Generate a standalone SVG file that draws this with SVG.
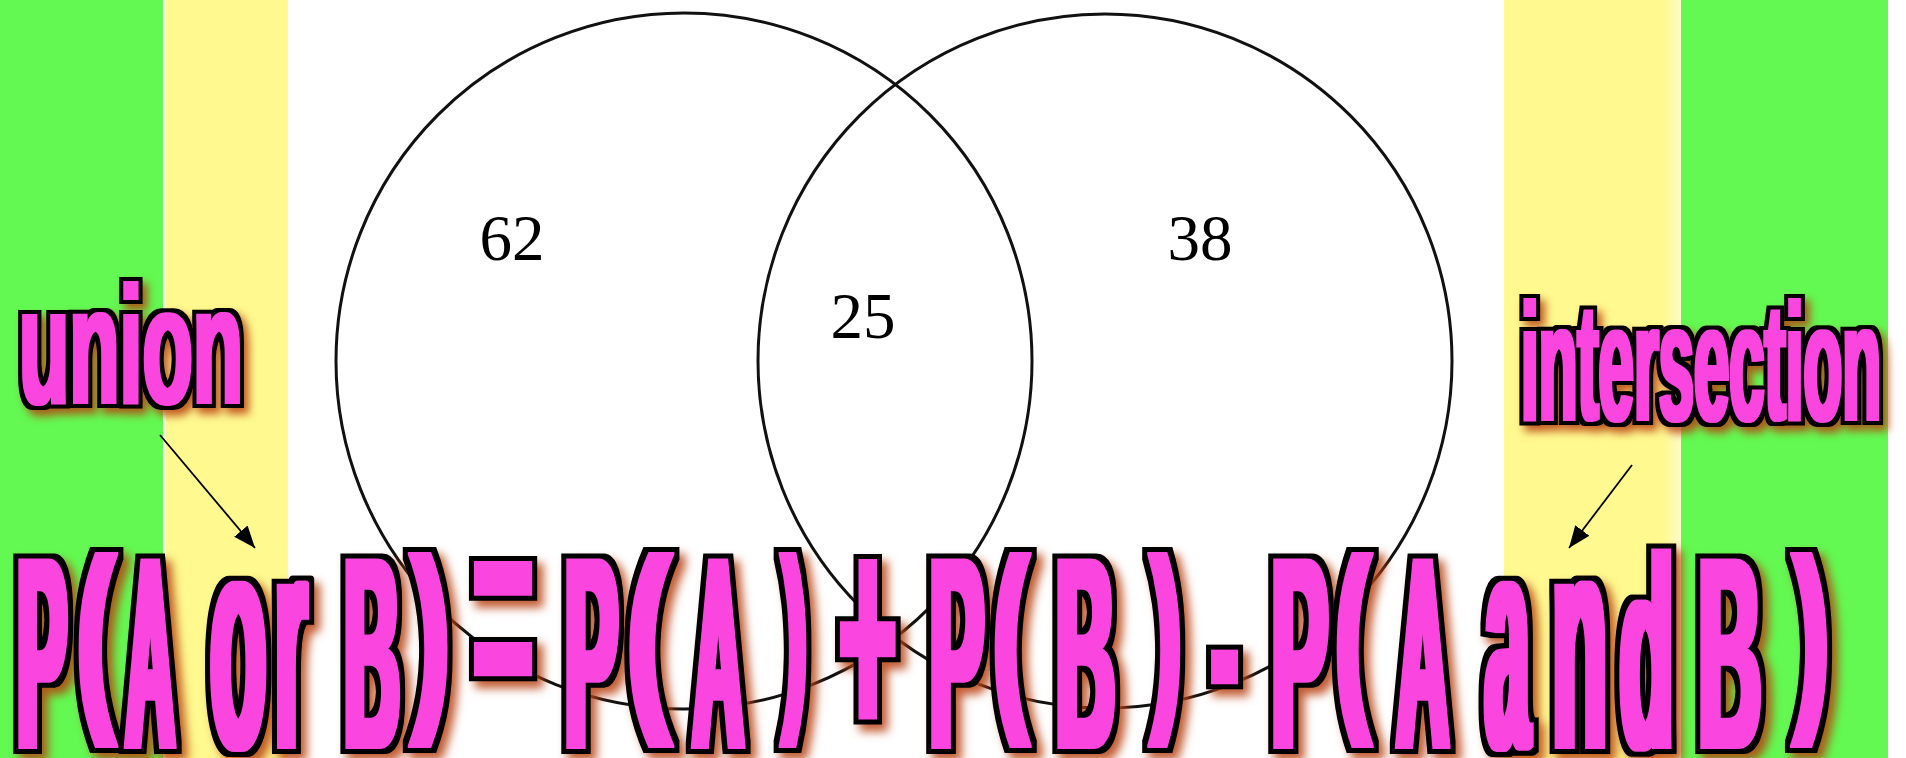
<svg xmlns="http://www.w3.org/2000/svg" width="1906" height="758" viewBox="0 0 1906 758">
  <style>
    .green { fill: #63F952; }
    .yellow { fill: #FFF98F; }
    .circle { fill: none; stroke: #111111; stroke-width: 3; }
    .num { font-family: "Liberation Serif", "Times New Roman", serif; font-size: 65px; fill: #000; text-anchor: middle; }
    .big { font-family: "Liberation Sans", Arial, sans-serif; font-weight: bold; fill: #FB45DF; }
    .cap { font-size: 274px; }
    .lc { font-size: 309px; }
    .par { font-size: 208px; }
    .lbl { font-size: 167px; }
    .conn { stroke: #000; stroke-width: 1.8; fill: none; marker-end: url(#arrow); }
  </style>
  <defs>
    <marker id="arrow" viewBox="0 0 10 8" refX="10" refY="4" markerWidth="22" markerHeight="17.6" markerUnits="userSpaceOnUse" orient="auto">
      <path d="M0,0 L10,4 L0,8 z" fill="#000"/>
    </marker>
    <linearGradient id="ygR" x1="0" y1="0" x2="1" y2="0">
      <stop offset="0" stop-color="#FFF98F"/>
      <stop offset="0.9" stop-color="#FFF98F"/>
      <stop offset="1" stop-color="#FDFBC8"/>
    </linearGradient>
    <filter id="poster" filterUnits="userSpaceOnUse" x="0" y="0" width="1906" height="758" color-interpolation-filters="sRGB">
      <feMorphology in="SourceGraphic" operator="dilate" radius="4 1" result="fat"/>
      <feMorphology in="fat" operator="dilate" radius="5" result="outA"/>
      <feFlood flood-color="#000000" result="blk"/>
      <feComposite in="blk" in2="outA" operator="in" result="outline"/>
      <feGaussianBlur in="outA" stdDeviation="5" result="blur"/>
      <feOffset in="blur" dx="6" dy="7" result="off"/>
      <feFlood flood-color="#B8400F" flood-opacity="0.85" result="sc"/>
      <feComposite in="sc" in2="off" operator="in" result="shadow"/>
      <feMerge>
        <feMergeNode in="shadow"/>
        <feMergeNode in="outline"/>
        <feMergeNode in="fat"/>
      </feMerge>
    </filter>
    <filter id="posterSm" filterUnits="userSpaceOnUse" x="0" y="0" width="1906" height="758" color-interpolation-filters="sRGB">
      <feMorphology in="SourceGraphic" operator="dilate" radius="2 0.5" result="fat"/>
      <feMorphology in="fat" operator="dilate" radius="4" result="outA"/>
      <feFlood flood-color="#000000" result="blk"/>
      <feComposite in="blk" in2="outA" operator="in" result="outline"/>
      <feGaussianBlur in="outA" stdDeviation="4" result="blur"/>
      <feOffset in="blur" dx="5" dy="6" result="off"/>
      <feFlood flood-color="#B8400F" flood-opacity="0.85" result="sc"/>
      <feComposite in="sc" in2="off" operator="in" result="shadow"/>
      <feMerge>
        <feMergeNode in="shadow"/>
        <feMergeNode in="outline"/>
        <feMergeNode in="fat"/>
      </feMerge>
    </filter>
  </defs>

  <g id="background">
    <rect x="0" y="0" width="1906" height="758" fill="#FFFFFF"/>
    <rect class="green" x="0" y="0" width="163" height="758"/>
    <rect x="163" y="0" width="3" height="758" fill="#F4FFE8"/>
    <rect class="yellow" x="166" y="0" width="122" height="758"/>
    <rect x="1504" y="0" width="177" height="758" fill="url(#ygR)"/>
    <rect class="green" x="1681" y="0" width="207" height="758"/>
  </g>

  <g id="venn">
    <g id="circle-A"><circle class="circle" cx="684" cy="361" r="348"/></g>
    <g id="circle-B"><circle class="circle" cx="1105" cy="361" r="347"/></g>
    <g id="region-A-only"><text class="num" x="512" y="260">62</text></g>
    <g id="region-both"><text class="num" x="863" y="338">25</text></g>
    <g id="region-B-only"><text class="num" x="1200" y="260">38</text></g>
  </g>

  <g id="connectors">
    <line class="conn" x1="160" y1="435" x2="255" y2="548"/>
    <line class="conn" x1="1632" y1="465" x2="1569" y2="548"/>
  </g>

  <g id="label-union" filter="url(#posterSm)">
    <text class="big lbl" x="19" y="403" textLength="224" lengthAdjust="spacingAndGlyphs">union</text>
  </g>

  <g id="label-intersection" filter="url(#posterSm)">
    <text class="big lbl" x="1521" y="420" textLength="360" lengthAdjust="spacingAndGlyphs">intersection</text>
  </g>

  <g id="formula" filter="url(#poster)">
    <text class="big cap" x="17.4" y="748" textLength="49.3" lengthAdjust="spacingAndGlyphs">P</text>
    <text class="big par" x="76.9" y="704" textLength="37.7" lengthAdjust="spacingAndGlyphs">(</text>
    <text class="big cap" x="126" y="748" textLength="48.5" lengthAdjust="spacingAndGlyphs">A</text>
    <text class="big lc" x="210.5" y="748" textLength="55.5" lengthAdjust="spacingAndGlyphs">o</text>
    <text class="big lc" x="275.4" y="748" textLength="31" lengthAdjust="spacingAndGlyphs">r</text>
    <text class="big cap" x="344.3" y="748" textLength="55.3" lengthAdjust="spacingAndGlyphs">B</text>
    <text class="big par" x="411.6" y="704" textLength="37.7" lengthAdjust="spacingAndGlyphs">)</text>
    <text class="big" style="font-size:300px" x="473.8" y="718" textLength="58.5" lengthAdjust="spacingAndGlyphs">=</text>
    <text class="big cap" x="565" y="748" textLength="52.8" lengthAdjust="spacingAndGlyphs">P</text>
    <text class="big par" x="626.7" y="704" textLength="44" lengthAdjust="spacingAndGlyphs">(</text>
    <text class="big cap" x="693" y="748" textLength="50.5" lengthAdjust="spacingAndGlyphs">A</text>
    <text class="big par" x="782.5" y="704" textLength="23.4" lengthAdjust="spacingAndGlyphs">)</text>
    <text class="big" style="font-size:312px" x="840" y="743" textLength="55.5" lengthAdjust="spacingAndGlyphs">+</text>
    <text class="big cap" x="929.8" y="748" textLength="54" lengthAdjust="spacingAndGlyphs">P</text>
    <text class="big par" x="993.4" y="704" textLength="34.5" lengthAdjust="spacingAndGlyphs">(</text>
    <text class="big cap" x="1055.9" y="748" textLength="59" lengthAdjust="spacingAndGlyphs">B</text>
    <text class="big par" x="1151.1" y="704" textLength="29.7" lengthAdjust="spacingAndGlyphs">)</text>
    <text class="big cap" x="1212.1" y="738" textLength="25" lengthAdjust="spacingAndGlyphs">-</text>
    <text class="big cap" x="1271.6" y="748" textLength="56.3" lengthAdjust="spacingAndGlyphs">P</text>
    <text class="big par" x="1335.4" y="704" textLength="34.5" lengthAdjust="spacingAndGlyphs">(</text>
    <text class="big cap" x="1397" y="748" textLength="51.5" lengthAdjust="spacingAndGlyphs">A</text>
    <text class="big lc" x="1485.2" y="748" textLength="44" lengthAdjust="spacingAndGlyphs">a</text>
    <text class="big lc" x="1552.4" y="748" textLength="54.4" lengthAdjust="spacingAndGlyphs">n</text>
    <text class="big cap" x="1619.7" y="748" textLength="53.7" lengthAdjust="spacingAndGlyphs">d</text>
    <text class="big cap" x="1698.5" y="748" textLength="62.6" lengthAdjust="spacingAndGlyphs">B</text>
    <text class="big par" x="1793.8" y="704" textLength="34.5" lengthAdjust="spacingAndGlyphs">)</text>
  </g>
</svg>
